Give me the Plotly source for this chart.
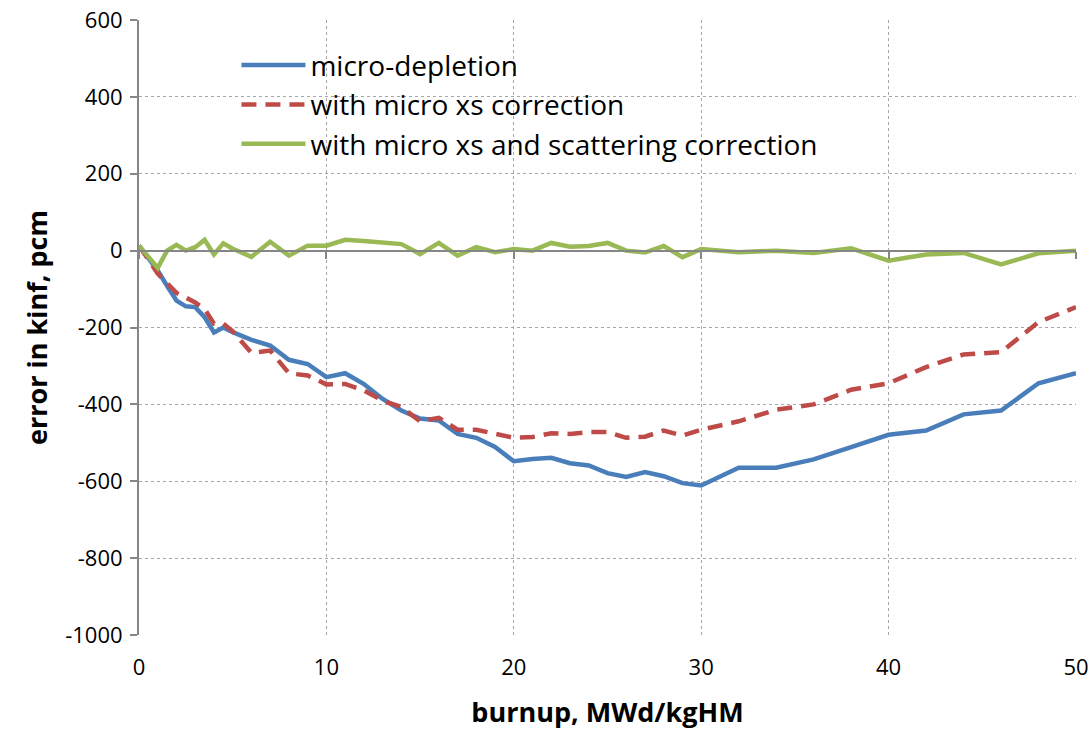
import plotly.graph_objects as go

burnup = [0, 1, 1.5, 2, 2.5, 3, 3.5, 4, 4.5, 5, 6, 7, 8, 9, 10, 11, 12, 13, 14, 15, 16, 17, 18, 19, 20,
          21, 22, 23, 24, 25, 26, 27, 28, 29, 30, 32, 34, 36, 38, 40, 42, 44, 46, 48, 50]

micro_depletion = [13, -52, -92, -130, -145, -147, -173, -213, -200, -212, -232, -247, -284, -295, -329,
                   -319, -347, -386, -416, -437, -442, -477, -487, -511, -548, -542, -539, -553, -559,
                   -579, -589, -576, -587, -605, -611, -565, -565, -543, -511, -479, -468, -426, -416,
                   -345, -319]

micro_xs = [13, -60, -85, -110, -122, -135, -152, -190, -190, -210, -266, -260, -319, -325, -348, -347,
            -364, -390, -407, -444, -435, -466, -466, -477, -487, -485, -475, -477, -472, -472, -487,
            -484, -468, -481, -466, -444, -414, -400, -362, -345, -303, -270, -264, -186, -147]

micro_xs_scatter = [13, -45, 0, 15, 0, 9, 28, -10, 19, 5, -16, 23, -13, 13, 13, 28, 25, 22, 17, -9, 20,
                    -13, 9, -4, 4, 0, 20, 10, 12, 20, 0, -5, 12, -17, 4, -4, 0, -6, 6, -26, -10, -6,
                    -36, -7, 0]

x_ticks = [0, 10, 20, 30, 40, 50]
y_ticks = [600, 400, 200, 0, -200, -400, -600, -800, -1000]
y_tick_labels = ["600", "400", "200", "0", "-200", "-400", "-600", "-800", "-1000"]

FONT = "Open Sans"
Y_MIN, Y_MAX = -1000, 600

fig = go.Figure()
fig.add_trace(go.Scatter(x=burnup, y=micro_depletion, mode="lines", name="micro-depletion",
                         line=dict(color="#4a7ebb", width=4.5)))
fig.add_trace(go.Scatter(x=burnup, y=micro_xs, mode="lines", name="with micro xs correction",
                         line=dict(color="#be4b48", width=4.5, dash="15px,9px")))
fig.add_trace(go.Scatter(x=burnup, y=micro_xs_scatter, mode="lines",
                         name="with micro xs and scattering correction",
                         line=dict(color="#98b954", width=4.5)))
# invisible trace to host the axis that crosses at y=0
fig.add_trace(go.Scatter(x=[0, 50], y=[0, 0], xaxis="x2", mode="lines",
                         line=dict(width=0), showlegend=False, hoverinfo="skip"))

fig.update_layout(
    width=1092, height=730,
    margin=dict(l=139, r=16, t=20, b=95, autoexpand=False),
    paper_bgcolor="white", plot_bgcolor="white",
    font=dict(family=FONT, color="black", size=22),
    showlegend=True,
    legend=dict(x=0.104, y=0.967, xanchor="left", yanchor="top",
                font=dict(family=FONT, size=28, color="black"),
                bgcolor="rgba(0,0,0,0)", tracegroupgap=0, itemwidth=64),
    xaxis=dict(range=[0, 50], tickvals=x_ticks, showgrid=True, gridcolor="#a6a6a6",
               griddash="dot", gridwidth=1, showline=False, zeroline=False, ticks="",
               tickfont=dict(family=FONT, size=22), ticklabelstandoff=17, automargin=False,
               title=dict(text="<b>burnup, MWd/kgHM</b>", font=dict(family=FONT, size=27),
                          standoff=25)),
    xaxis2=dict(range=[0, 50], tickvals=x_ticks, overlaying="x", anchor="free",
                position=(0 - Y_MIN) / (Y_MAX - Y_MIN), side="bottom",
                showline=True, linecolor="#868686", linewidth=2, ticks="outside",
                ticklen=7, tickcolor="#868686", tickwidth=2, showticklabels=False,
                showgrid=False, zeroline=False),
    yaxis=dict(range=[Y_MIN, Y_MAX], tickvals=y_ticks, ticktext=y_tick_labels, showgrid=True,
               gridcolor="#a6a6a6", griddash="dot", gridwidth=1, showline=True,
               linecolor="#868686", linewidth=2, ticks="outside", ticklen=7,
               tickcolor="#868686", tickwidth=2, zeroline=False, automargin=False,
               tickfont=dict(family=FONT, size=22), ticklabelstandoff=3,
               title=dict(text="<b>error in kinf, pcm</b>", font=dict(family=FONT, size=27),
                          standoff=10)),
)

fig.write_html("out.html")
